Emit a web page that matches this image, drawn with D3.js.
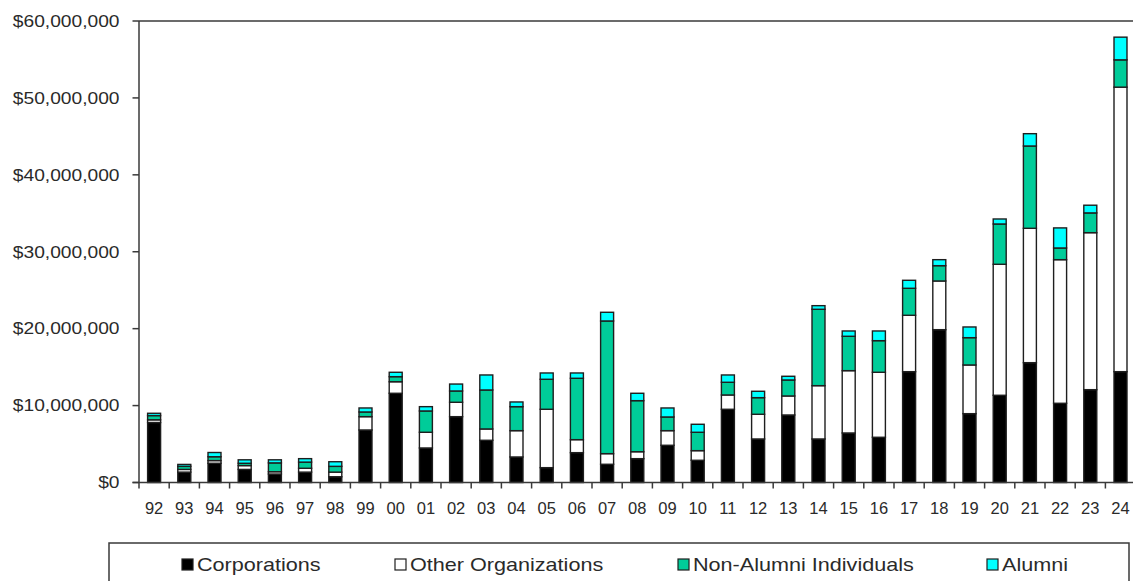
<!DOCTYPE html>
<html>
<head>
<meta charset="utf-8">
<script src="https://cdn.jsdelivr.net/npm/d3@7"></script>
<style>
  html, body { margin: 0; padding: 0; background: #fff; }
  svg { display: block; font-family: "Liberation Sans", Arial, sans-serif; }
</style>
</head>
<body>
<svg id="chart" width="1133" height="581"></svg>
<script>
// Fiscal years (two-digit labels)
const years = ["92","93","94","95","96","97","98","99","00","01","02","03","04","05","06","07","08","09","10","11","12","13","14","15","16","17","18","19","20","21","22","23","24"];

// Giving by source, in millions of dollars
const corporations = [7.8,1.35,2.5,1.7,1.1,1.35,0.75,6.83,11.6,4.49,8.56,5.49,3.32,1.93,3.88,2.37,3.1,4.84,2.89,9.52,5.66,8.78,5.66,6.44,5.88,14.41,19.87,8.95,11.34,15.58,10.3,12.07,14.41];
const otherOrgs    = [0.35,0.35,0.35,0.5,0.3,0.5,0.6,1.73,1.5,2.04,1.87,1.47,3.42,7.59,1.69,1.38,0.9,1.9,1.25,1.86,3.21,2.47,6.93,8.1,8.45,7.33,6.33,6.33,17.03,17.47,18.67,20.41,36.99];
const nonAlumni    = [0.55,0.4,0.5,0.3,1.15,0.8,0.75,0.61,0.66,2.77,1.47,5.07,3.12,3.9,7.98,17.25,6.64,1.78,2.39,1.65,2.16,2.08,9.93,4.47,4.11,3.51,1.99,3.55,5.24,10.7,1.52,2.57,3.55];
const alumni       = [0.3,0.25,0.55,0.45,0.4,0.45,0.6,0.52,0.57,0.56,0.9,1.95,0.61,0.82,0.69,1.13,0.96,1.17,1.04,0.95,0.83,0.48,0.47,0.69,1.26,1.04,0.78,1.39,0.65,1.6,2.61,1.0,2.95];

const seriesNames = ["Corporations","Other Organizations","Non-Alumni Individuals","Alumni"];
const seriesColors = ["#000000","#ffffff","#00cc99","#00ffff"];
const yTicks = [0,10,20,30,40,50,60];

const keys = ["corp","other","nonalum","alum"];
const rows = years.map((y, i) => ({
  year: y, corp: corporations[i], other: otherOrgs[i], nonalum: nonAlumni[i], alum: alumni[i]
}));

const svg = d3.select("#chart");
const axisColor = "#3a3a3a";
const textColor = "#2a2a2a";

const plot = { left: 139, right: 1135.6, top: 21, bottom: 482.5 };

const x = d3.scaleBand().domain(years).range([plot.left, plot.right]).padding(0);
const y = d3.scaleLinear().domain([0, 60]).range([plot.bottom, plot.top]);
const barW = x.bandwidth() * 0.43;

const stack = d3.stack().keys(keys);
const stacked = stack(rows);

// Stacked bars
const layers = svg.append("g").selectAll("g")
  .data(stacked)
  .join("g")
  .attr("fill", (d, i) => seriesColors[i]);

layers.selectAll("rect")
  .data(d => d)
  .join("rect")
  .attr("x", d => x(d.data.year) + (x.bandwidth() - barW) / 2)
  .attr("y", d => y(d[1]))
  .attr("width", barW)
  .attr("height", d => y(d[0]) - y(d[1]))
  .attr("stroke", "#1e1e1e")
  .attr("stroke-width", 1.4);

// Plot frame: top edge
svg.append("line")
  .attr("x1", plot.left).attr("x2", plot.right)
  .attr("y1", plot.top).attr("y2", plot.top)
  .attr("stroke", axisColor).attr("stroke-width", 1.5);

// Y axis
const yAxis = svg.append("g");
yAxis.append("line")
  .attr("x1", plot.left).attr("x2", plot.left)
  .attr("y1", plot.top).attr("y2", plot.bottom)
  .attr("stroke", axisColor).attr("stroke-width", 1.5);
const fmt = d => "$" + d3.format(",")(d * 1e6);
const yt = yAxis.selectAll("g.tick").data(yTicks).join("g").attr("class", "tick");
yt.append("line")
  .attr("x1", plot.left - 6.5).attr("x2", plot.left)
  .attr("y1", d => y(d)).attr("y2", d => y(d))
  .attr("stroke", axisColor).attr("stroke-width", 1.5);
yt.append("text")
  .attr("transform", d => `translate(${plot.left - 19.5},${y(d)}) scale(1.2,1)`)
  .attr("text-anchor", "end")
  .attr("dy", "0.36em")
  .attr("font-size", 16)
  .attr("fill", textColor)
  .text(fmt);

// X axis
const xAxis = svg.append("g");
xAxis.append("line")
  .attr("x1", plot.left - 6.5).attr("x2", plot.right)
  .attr("y1", plot.bottom).attr("y2", plot.bottom)
  .attr("stroke", axisColor).attr("stroke-width", 1.5);
xAxis.selectAll("line.xt")
  .data(years.map((d, i) => i).concat([years.length]))
  .join("line")
  .attr("class", "xt")
  .attr("x1", i => plot.left + i * x.step())
  .attr("x2", i => plot.left + i * x.step())
  .attr("y1", plot.bottom).attr("y2", plot.bottom + 6)
  .attr("stroke", axisColor).attr("stroke-width", 1.5);
xAxis.selectAll("text")
  .data(years)
  .join("text")
  .attr("x", d => x(d) + x.bandwidth() / 2)
  .attr("y", 514)
  .attr("text-anchor", "middle")
  .attr("font-size", 16.5)
  .attr("fill", textColor)
  .text(d => d);

// Legend
const legend = svg.append("g");
legend.append("rect")
  .attr("x", 109).attr("y", 543)
  .attr("width", 1020).attr("height", 60)
  .attr("fill", "#fff")
  .attr("stroke", axisColor).attr("stroke-width", 1.5);
const legendX = [182, 395, 678, 987];
const li = legend.selectAll("g.item").data(seriesNames).join("g").attr("class", "item")
  .attr("transform", (d, i) => `translate(${legendX[i]},0)`);
li.append("rect")
  .attr("x", 0).attr("y", 559)
  .attr("width", 11).attr("height", 11)
  .attr("fill", (d, i) => seriesColors[i])
  .attr("stroke", "#1e1e1e").attr("stroke-width", 1.2);
li.append("text")
  .attr("transform", "translate(15,571) scale(1.2,1)")
  .attr("font-size", 18)
  .attr("fill", textColor)
  .text(d => d);
</script>
</body>
</html>
